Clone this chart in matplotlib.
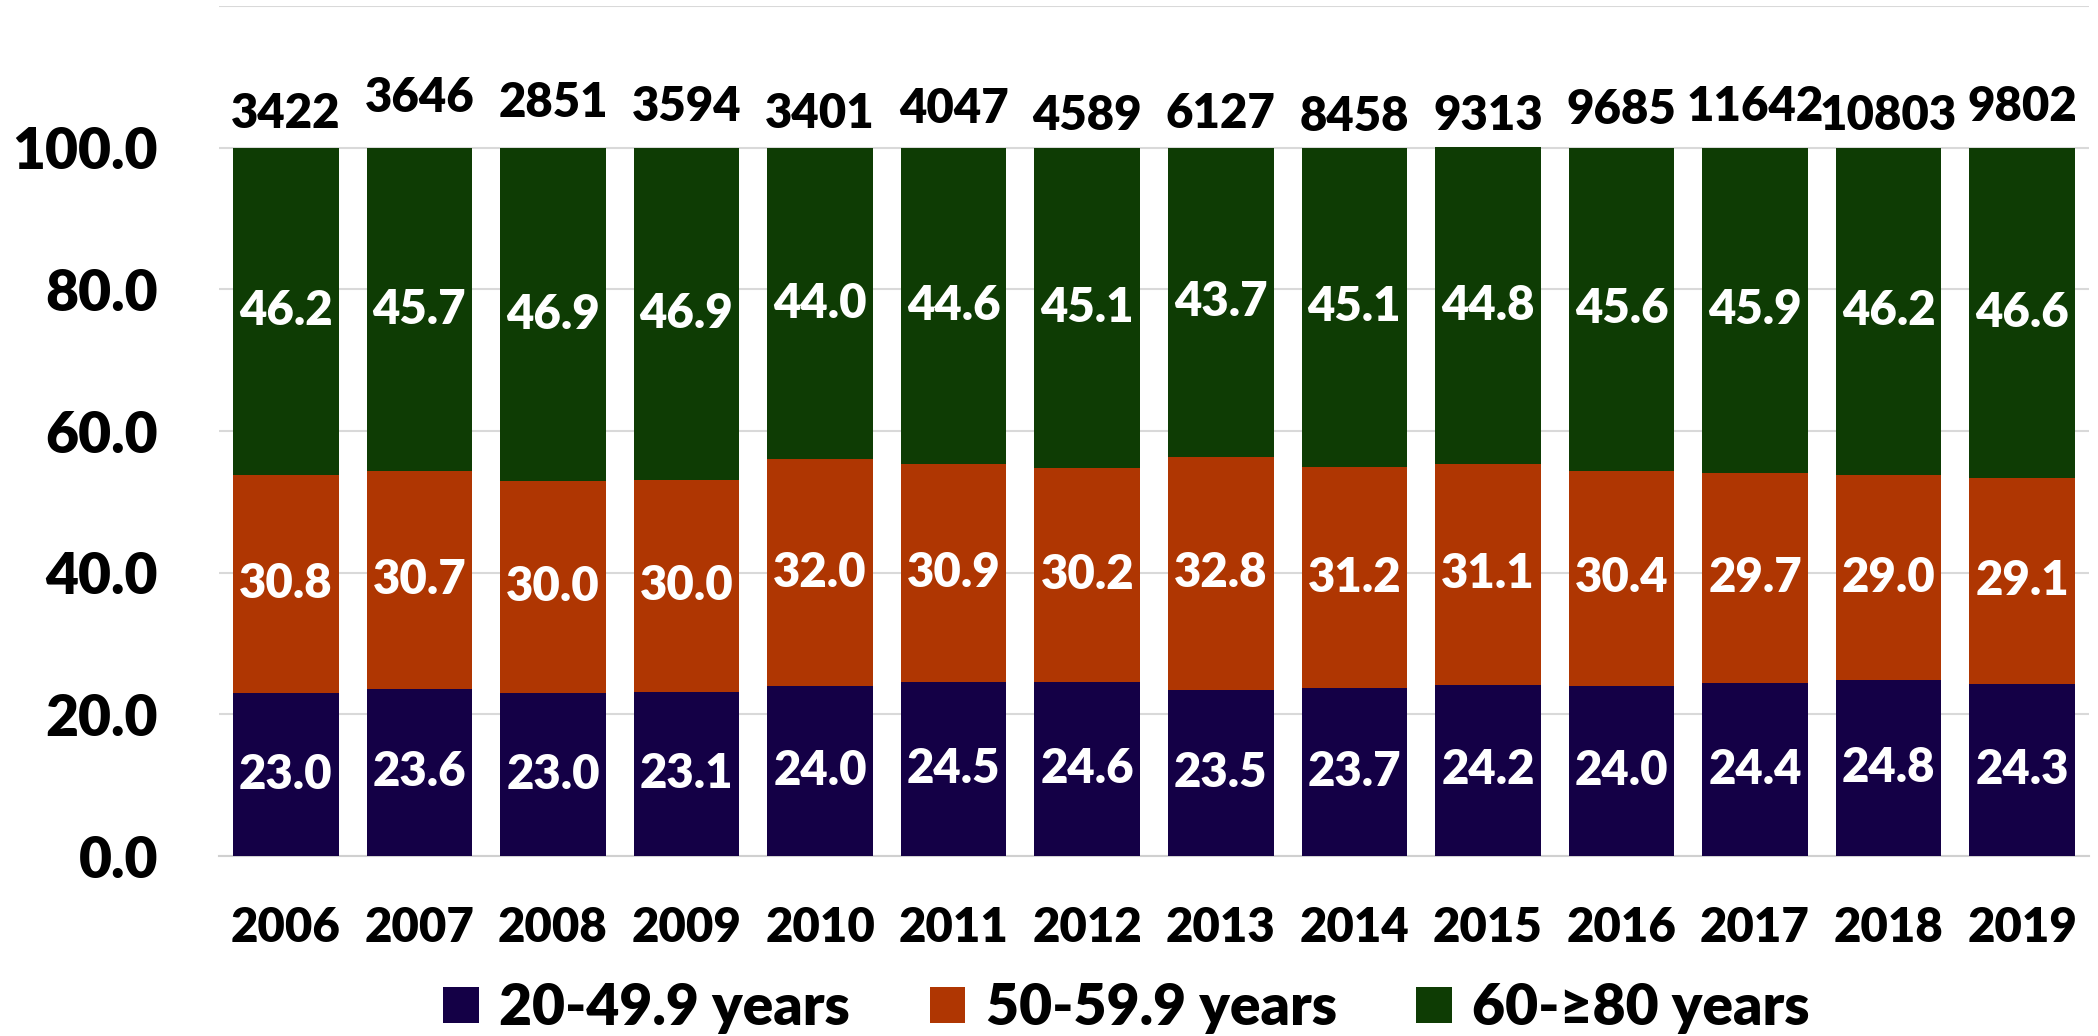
import numpy as np
import matplotlib.pyplot as plt
from matplotlib.patches import Patch

plt.rcParams['font.family'] = ['Lato', 'DejaVu Sans']
plt.rcParams['font.weight'] = 'heavy'

# Data
years = ['2006', '2007', '2008', '2009', '2010', '2011', '2012',
         '2013', '2014', '2015', '2016', '2017', '2018', '2019']
age_20_49 = [23.0, 23.6, 23.0, 23.1, 24.0, 24.5, 24.6, 23.5, 23.7, 24.2, 24.0, 24.4, 24.8, 24.3]
age_50_59 = [30.8, 30.7, 30.0, 30.0, 32.0, 30.9, 30.2, 32.8, 31.2, 31.1, 30.4, 29.7, 29.0, 29.1]
age_60_80 = [46.2, 45.7, 46.9, 46.9, 44.0, 44.6, 45.1, 43.7, 45.1, 44.8, 45.6, 45.9, 46.2, 46.6]
totals = [3422, 3646, 2851, 3594, 3401, 4047, 4589, 6127, 8458, 9313, 9685, 11642, 10803, 9802]
series_names = ['20-49.9 years', '50-59.9 years', '60-\u226580 years']

# Style
colors = ['#140046', '#AF3602', '#0E3C04']
# lift of the total labels above the 100 line, in points (staggered as in the original)
total_lift = [24, 36, 32, 29, 24, 28, 23, 24, 22, 23, 27, 29, 23, 29]
W = 'heavy'

fig = plt.figure(figsize=(20.98, 10.36), dpi=100)
ax = fig.add_axes([0.1044, 0.1737, 0.8913, 0.8205])

x = np.arange(len(years))
width = 0.79
bottom = np.zeros(len(years))
for vals, col in zip([age_20_49, age_50_59, age_60_80], colors):
    vals = np.array(vals)
    bars = ax.bar(x, vals, width, bottom=bottom, color=col, zorder=3)
    for xi, b, v in zip(x, bottom, vals):
        ax.text(xi, b + v / 2, f'{v:.1f}', ha='center', va='center',
                color='white', fontsize=34, fontweight=W, zorder=4)
    bottom += vals

for xi, t, lift in zip(x, totals, total_lift):
    ax.annotate(str(t), (xi, 100), xytext=(0, lift), textcoords='offset points',
                ha='center', va='center', fontsize=34, fontweight=W, color='black')

ax.set_xlim(-0.5, len(years) - 0.5)
ax.set_ylim(0, 120)
ax.set_yticks(np.arange(0, 101, 20))
ax.set_yticklabels([f'{v:.1f}' for v in np.arange(0, 101, 20)], fontsize=41, fontweight=W)
ax.set_xticks(x)
ax.set_xticklabels(years, fontsize=34, fontweight=W)
ax.tick_params(axis='y', length=0, pad=44)
ax.tick_params(axis='x', length=0, pad=36)

ax.grid(axis='y', color='#d9d9d9', linewidth=1.5, zorder=0)
ax.axhline(120, color='#d9d9d9', linewidth=1.5, zorder=0)
for s in ['top', 'right', 'left']:
    ax.spines[s].set_visible(False)
ax.spines['bottom'].set_color('#d0d0d0')
ax.spines['bottom'].set_linewidth(1.5)

handles = [Patch(facecolor=c, label=n) for c, n in zip(colors, series_names)]
fig.legend(handles=handles, loc='center', bbox_to_anchor=(0.537, 0.027), ncol=3,
           frameon=False, handlelength=0.62, handleheight=0.62,
           handletextpad=0.36, columnspacing=1.4,
           prop={'family': ['Lato', 'DejaVu Sans'], 'weight': W, 'size': 41})

fig.savefig('out.png', dpi=100)
